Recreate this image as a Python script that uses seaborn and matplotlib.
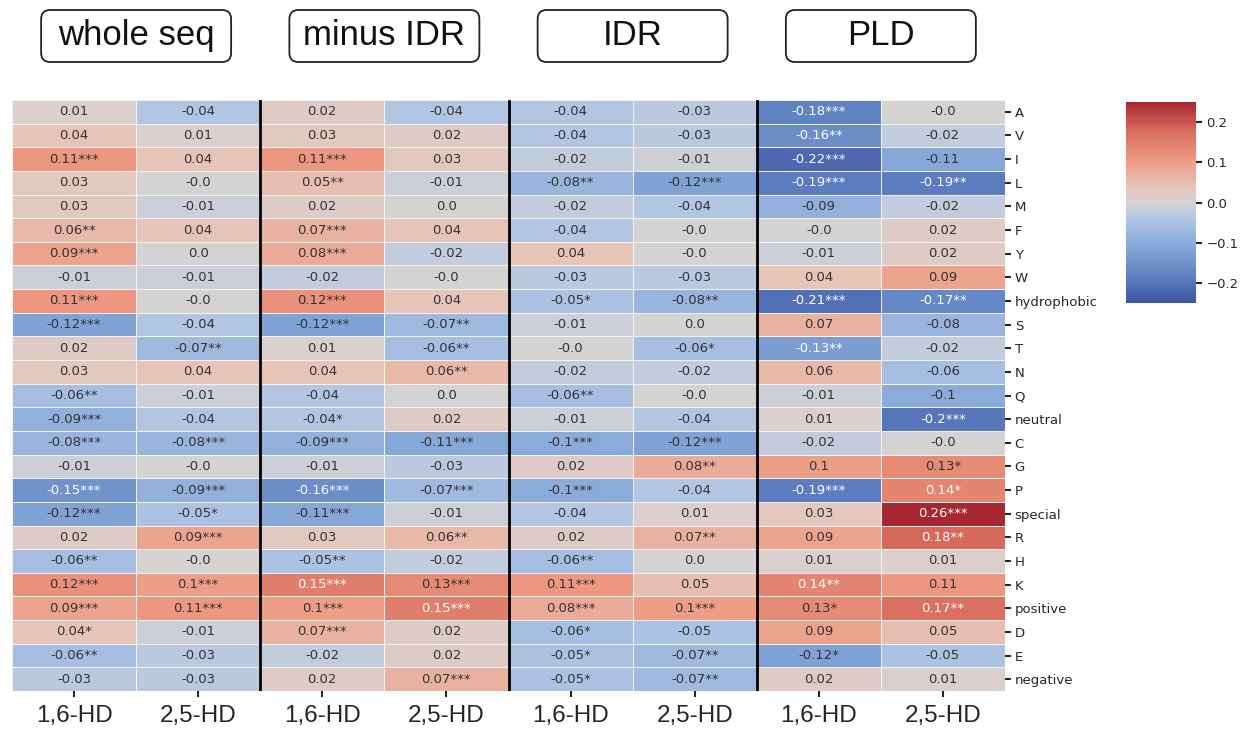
import numpy as np
import pandas as pd
import matplotlib
matplotlib.use("Agg")
import matplotlib.pyplot as plt
import seaborn as sns
from matplotlib.patches import FancyBboxPatch
from matplotlib.colors import LinearSegmentedColormap

# Row labels (residues and residue classes)
rows = ["A", "V", "I", "L", "M", "F", "Y", "W", "hydrophobic", "S", "T", "N",
        "Q", "neutral", "C", "G", "P", "special", "R", "H", "K", "positive",
        "D", "E", "negative"]

groups = ["whole seq", "minus IDR", "IDR", "PLD"]
treatments = ["1,6-HD", "2,5-HD"]

# Correlation coefficients per column
whole_16 = [0.01, 0.04, 0.11, 0.03, 0.03, 0.06, 0.09, -0.01, 0.11, -0.12, 0.02, 0.03,
            -0.06, -0.09, -0.08, -0.01, -0.15, -0.12, 0.02, -0.06, 0.12, 0.09, 0.04, -0.06, -0.03]
whole_25 = [-0.04, 0.01, 0.04, -0.0, -0.01, 0.04, 0.0, -0.01, -0.0, -0.04, -0.07, 0.04,
            -0.01, -0.04, -0.08, -0.0, -0.09, -0.05, 0.09, -0.0, 0.1, 0.11, -0.01, -0.03, -0.03]
minus_16 = [0.02, 0.03, 0.11, 0.05, 0.02, 0.07, 0.08, -0.02, 0.12, -0.12, 0.01, 0.04,
            -0.04, -0.04, -0.09, -0.01, -0.16, -0.11, 0.03, -0.05, 0.15, 0.1, 0.07, -0.02, 0.02]
minus_25 = [-0.04, 0.02, 0.03, -0.01, 0.0, 0.04, -0.02, -0.0, 0.04, -0.07, -0.06, 0.06,
            0.0, 0.02, -0.11, -0.03, -0.07, -0.01, 0.06, -0.02, 0.13, 0.15, 0.02, 0.02, 0.07]
idr_16 = [-0.04, -0.04, -0.02, -0.08, -0.02, -0.04, 0.04, -0.03, -0.05, -0.01, -0.0, -0.02,
          -0.06, -0.01, -0.1, 0.02, -0.1, -0.04, 0.02, -0.06, 0.11, 0.08, -0.06, -0.05, -0.05]
idr_25 = [-0.03, -0.03, -0.01, -0.12, -0.04, -0.0, -0.0, -0.03, -0.08, 0.0, -0.06, -0.02,
          -0.0, -0.04, -0.12, 0.08, -0.04, 0.01, 0.07, 0.0, 0.05, 0.1, -0.05, -0.07, -0.07]
pld_16 = [-0.18, -0.16, -0.22, -0.19, -0.09, -0.0, -0.01, 0.04, -0.21, 0.07, -0.13, 0.06,
          -0.01, 0.01, -0.02, 0.1, -0.19, 0.03, 0.09, 0.01, 0.14, 0.13, 0.09, -0.12, 0.02]
pld_25 = [-0.0, -0.02, -0.11, -0.19, -0.02, 0.02, 0.02, 0.09, -0.17, -0.08, -0.02, -0.06,
          -0.1, -0.2, -0.0, 0.13, 0.14, 0.26, 0.18, 0.01, 0.11, 0.17, 0.05, -0.05, 0.01]

# Significance stars per column
whole_16_sig = ["", "", "***", "", "", "**", "***", "", "***", "***", "", "",
                "**", "***", "***", "", "***", "***", "", "**", "***", "***", "*", "**", ""]
whole_25_sig = ["", "", "", "", "", "", "", "", "", "", "**", "",
                "", "", "***", "", "***", "*", "***", "", "***", "***", "", "", ""]
minus_16_sig = ["", "", "***", "**", "", "***", "***", "", "***", "***", "", "",
                "", "*", "***", "", "***", "***", "", "**", "***", "***", "***", "", ""]
minus_25_sig = ["", "", "", "", "", "", "", "", "", "**", "**", "**",
                "", "", "***", "", "***", "", "**", "", "***", "***", "", "", "***"]
idr_16_sig = ["", "", "", "**", "", "", "", "", "*", "", "", "",
              "**", "", "***", "", "***", "", "", "**", "***", "***", "*", "*", "*"]
idr_25_sig = ["", "", "", "***", "", "", "", "", "**", "", "*", "",
              "", "", "***", "**", "", "", "**", "", "", "***", "", "**", "**"]
pld_16_sig = ["***", "**", "***", "***", "", "", "", "", "***", "", "**", "",
              "", "", "", "", "***", "", "", "", "**", "*", "", "*", ""]
pld_25_sig = ["", "", "", "**", "", "", "", "", "**", "", "", "",
              "", "***", "", "*", "*", "***", "**", "", "", "**", "", "", ""]

values = [whole_16, whole_25, minus_16, minus_25, idr_16, idr_25, pld_16, pld_25]
stars = [whole_16_sig, whole_25_sig, minus_16_sig, minus_25_sig,
         idr_16_sig, idr_25_sig, pld_16_sig, pld_25_sig]

col_keys = [f"{g} {t}" for g in groups for t in treatments]
data = pd.DataFrame(np.array(values).T, index=rows, columns=col_keys)
labels = np.array([[f"{v}{s}" for v, s in zip(col, sig)] for col, sig in zip(values, stars)]).T

# Muted diverging blue-grey-red palette
stops = [
    (0.00, (60, 84, 164)),
    (0.06, (76, 104, 176)),
    (0.12, (92, 126, 192)),
    (0.28, (133, 168, 216)),
    (0.42, (178, 198, 228)),
    (0.50, (213, 211, 211)),
    (0.58, (230, 196, 184)),
    (0.72, (238, 152, 128)),
    (0.86, (216, 106, 92)),
    (1.00, (168, 38, 50)),
]
cmap = LinearSegmentedColormap.from_list(
    "muted_coolwarm", [(p, tuple(c / 255 for c in rgb)) for p, rgb in stops])

sns.set_style("ticks")
plt.rcParams["font.family"] = ["DejaVu Sans"]

W, H = 1251, 731
fig = plt.figure(figsize=(W / 100, H / 100), dpi=100)
ax = fig.add_axes([12 / W, (H - 691) / H, 993 / W, 591 / H])
cax = fig.add_axes([1126 / W, (H - 303) / H, 70 / W, 201 / H])

sns.heatmap(data, ax=ax, cbar_ax=cax, cmap=cmap, center=0, vmin=-0.25, vmax=0.25,
            annot=labels, fmt="", annot_kws={"fontsize": 9.5},
            linewidths=0.6, linecolor="#f4f4f4")

# Light text on the strongest cells, dark text elsewhere
flat_vals = data.values.ravel()
for txt, v in zip(ax.texts, flat_vals):
    txt.set_color("white" if (v <= -0.13 or v >= 0.14) else "#333333")

# Separators between the four sequence regions
for x in (2, 4, 6):
    ax.axvline(x, color="black", lw=2)

ax.set_xticks(np.arange(8) + 0.5)
ax.set_xticklabels(treatments * 4, rotation=0, fontsize=17.5, family="Liberation Sans")
ax.yaxis.tick_right()
ax.set_yticks(np.arange(len(rows)) + 0.5)
ax.set_yticklabels(rows, rotation=0, fontsize=9.5)
ax.tick_params(axis="x", length=4, width=1.5, pad=6)
ax.tick_params(axis="y", length=4, width=1.5, pad=3)
ax.set_xlabel("")
ax.set_ylabel("")

cax.set_yticks([-0.2, -0.1, 0.0, 0.1, 0.2])
cax.tick_params(labelsize=9.5, length=4, width=1.5)

# Region headers in rounded boxes above the column pairs
ax_left, ax_w = 12 / W, 993 / W
box_w = 190 / W
box_y0, box_h = (H - 62) / H, 52 / H
for i, g in enumerate(groups):
    cx = ax_left + (2 * i + 1) / 8 * ax_w
    patch = FancyBboxPatch((cx - box_w / 2, box_y0), box_w, box_h,
                           boxstyle=f"round,pad=0,rounding_size={9 / W}",
                           mutation_aspect=W / H, transform=fig.transFigure,
                           facecolor="white", edgecolor="#222222", lw=1.3)
    fig.add_artist(patch)
    fig.text(cx, (H - 45) / H, g, ha="center", va="baseline",
             fontsize=25, family="Liberation Sans", color="#111111")

fig.savefig("out.png", dpi=100)
